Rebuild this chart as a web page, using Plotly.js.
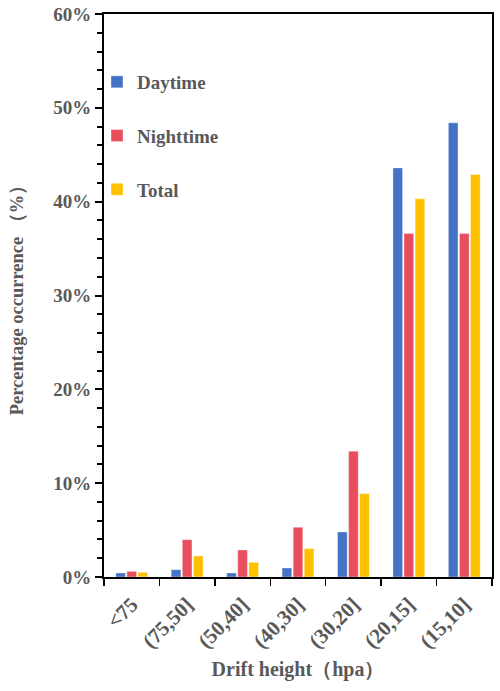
<!DOCTYPE html>
<html>
<head>
<meta charset="utf-8">
<script src="https://cdn.plot.ly/plotly-3.0.1.min.js"></script>
<style>html,body{margin:0;padding:0;background:#fff;}#chart{width:500px;height:691px;}</style>
</head>
<body>
<div id="chart"></div>
<script>
const categories = ['<75', '(75,50]', '(50,40]', '(40,30]', '(30,20]', '(20,15]', '(15,10]'];
const daytime   = [0.43, 0.78, 0.43, 0.96, 4.8, 43.6, 48.4];
const nighttime = [0.6, 3.98, 2.88, 5.3, 13.4, 36.6, 36.6];
const total     = [0.5, 2.24, 1.56, 3.02, 8.88, 40.3, 42.9];
const seriesNames = ['Daytime', 'Nighttime', 'Total'];
const colors = ['#4472C4', '#E84E5E', '#FFC000'];
const yTickVals = [0, 10, 20, 30, 40, 50, 60];

const font = '"Liberation Serif", "Times New Roman", serif';
const grey = '#595959';
const values = [daytime, nighttime, total];

const traces = values.map((v, i) => ({
  type: 'bar',
  name: seriesNames[i],
  x: categories,
  y: v,
  legendgroup: 'g' + i,
  marker: {color: colors[i], line: {color: 'rgba(255,255,255,0.35)', width: 1}},
  hoverinfo: 'none'
}));

const layout = {
  width: 500, height: 691,
  margin: {l: 104, r: 8, t: 14, b: 114},
  paper_bgcolor: '#fff', plot_bgcolor: '#fff',
  barmode: 'group', bargap: 0.4, bargroupgap: 0.13,
  showlegend: true,
  legend: {
    x: -0.018, y: 0.913, xanchor: 'left', yanchor: 'top',
    bgcolor: 'rgba(0,0,0,0)', tracegroupgap: 26,
    font: {family: font, size: 19, color: grey, weight: 'bold'}
  },
  xaxis: {
    type: 'category', showline: true, linecolor: '#000', linewidth: 2, mirror: true,
    ticks: 'outside', tickson: 'boundaries', ticklen: 7, tickwidth: 1.5, tickcolor: '#000',
    tickangle: -45, ticklabelstandoff: 5,
    tickfont: {family: font, size: 21, color: grey, weight: 'bold'},
    showgrid: false, zeroline: false,
    title: {text: 'Drift height（hpa）', font: {family: font, size: 20, color: grey, weight: 'bold'}, standoff: 10}
  },
  yaxis: {
    range: [0, 60], showline: true, linecolor: '#000', linewidth: 2, mirror: true,
    tickvals: yTickVals, ticktext: yTickVals.map(v => v + '%'),
    ticks: 'outside', ticklen: 7, tickwidth: 2, tickcolor: '#000',
    minor: {dtick: 2, ticks: 'outside', ticklen: 5, tickwidth: 2, tickcolor: '#000', showgrid: false},
    tickfont: {family: font, size: 19, color: grey, weight: 'bold'},
    showgrid: false, zeroline: false,
    title: {text: 'Percentage occurrence （%）', font: {family: font, size: 18.5, color: grey, weight: 'bold'}, standoff: 25}
  }
};

Plotly.newPlot('chart', traces, layout, {displayModeBar: false, staticPlot: true});
</script>
</body>
</html>
